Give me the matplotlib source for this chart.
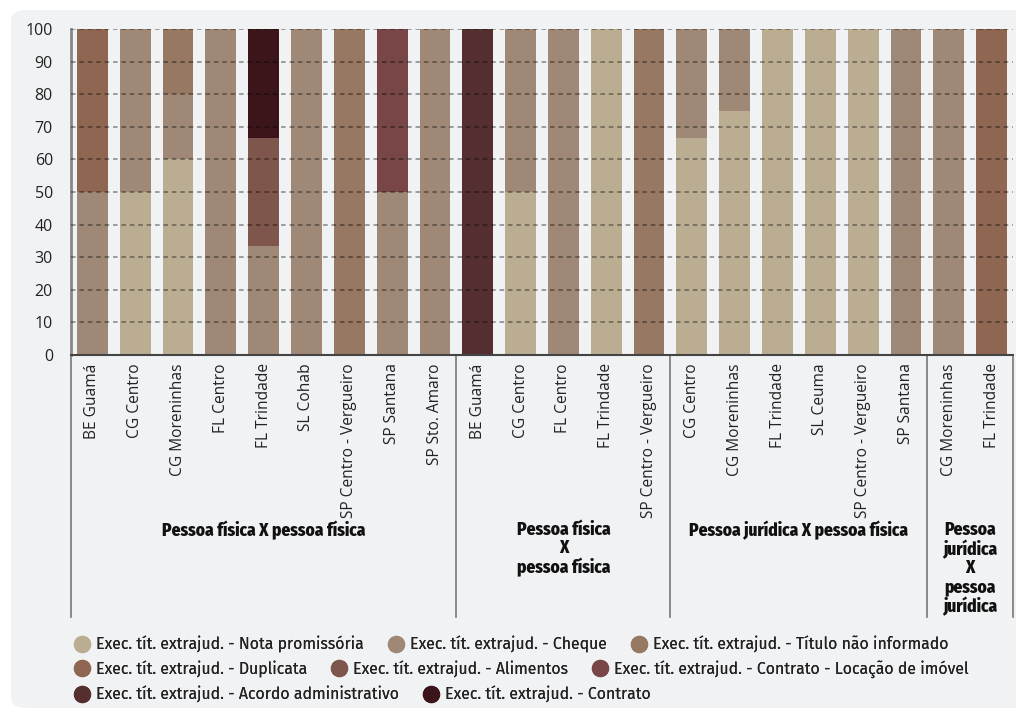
import matplotlib
matplotlib.use("Agg")
import matplotlib.pyplot as plt
from matplotlib.patches import FancyBboxPatch
from matplotlib.lines import Line2D
from matplotlib import font_manager as fm
import numpy as np

# ---- data ----
group_names = ["Pessoa física X pessoa física",
               "Pessoa física\nX\npessoa física",
               "Pessoa jurídica X pessoa física",
               "Pessoa\njurídica\nX\npessoa\njurídica"]
group_labels = [
    ["BE Guamá", "CG Centro", "CG Moreninhas", "FL Centro", "FL Trindade",
     "SL Cohab", "SP Centro - Vergueiro", "SP Santana", "SP Sto. Amaro"],
    ["BE Guamá", "CG Centro", "FL Centro", "FL Trindade", "SP Centro - Vergueiro"],
    ["CG Centro", "CG Moreninhas", "FL Trindade", "SL Ceuma",
     "SP Centro - Vergueiro", "SP Santana"],
    ["CG Moreninhas", "FL Trindade"],
]
series_names = [
    "Exec. tít. extrajud. - Nota promissória",
    "Exec. tít. extrajud. - Cheque",
    "Exec. tít. extrajud. - Título não informado",
    "Exec. tít. extrajud. - Duplicata",
    "Exec. tít. extrajud. - Alimentos",
    "Exec. tít. extrajud. - Contrato - Locação de imóvel",
    "Exec. tít. extrajud. - Acordo administrativo",
    "Exec. tít. extrajud. - Contrato",
]
colors = ["#BBAD92", "#A08877", "#977862", "#8F6652",
          "#7F564C", "#784646", "#552E30", "#3C151A"]

nota      = [0, 50, 60, 0, 0, 0, 0, 0, 0,    0, 50, 0, 100, 0,   66.7, 75, 100, 100, 100, 0,   0, 0]
cheque    = [50, 50, 20, 100, 33.3, 100, 0, 50, 100,  0, 50, 100, 0, 0,  33.3, 25, 0, 0, 0, 100,  100, 0]
titulo    = [0, 0, 20, 0, 0, 0, 100, 0, 0,   0, 0, 0, 0, 100,   0, 0, 0, 0, 0, 0,   0, 0]
duplicata = [50, 0, 0, 0, 0, 0, 0, 0, 0,     0, 0, 0, 0, 0,     0, 0, 0, 0, 0, 0,   0, 100]
alimentos = [0, 0, 0, 0, 33.3, 0, 0, 0, 0,   0, 0, 0, 0, 0,     0, 0, 0, 0, 0, 0,   0, 0]
locacao   = [0, 0, 0, 0, 0, 0, 0, 50, 0,     0, 0, 0, 0, 0,     0, 0, 0, 0, 0, 0,   0, 0]
acordo    = [0, 0, 0, 0, 0, 0, 0, 0, 0,      100, 0, 0, 0, 0,   0, 0, 0, 0, 0, 0,   0, 0]
contrato  = [0, 0, 0, 0, 33.4, 0, 0, 0, 0,   0, 0, 0, 0, 0,     0, 0, 0, 0, 0, 0,   0, 0]
series = [nota, cheque, titulo, duplicata, alimentos, locacao, acordo, contrato]

yticks = list(range(0, 101, 10))

# ---- fonts ----
_avail = {f.name for f in fm.fontManager.ttflist}


def pick(cands):
    for c in cands:
        if c in _avail:
            return c
    return "DejaVu Sans"


BASE = pick(["Fira Sans", "Open Sans", "Noto Sans"])
TICK = pick(["Open Sans", "Fira Sans", "Noto Sans"])
COND = pick(["Fira Sans Condensed", "Fira Sans Extra Condensed", "Roboto Condensed",
             "Archivo Narrow", "PT Sans Narrow", "Barlow Condensed",
             "IBM Plex Sans Condensed", "Open Sans Condensed", "Liberation Sans Narrow",
             "Roboto"])
BASE_F = [BASE, "DejaVu Sans"]
TICK_F = [TICK, "DejaVu Sans"]
COND_F = [COND, "DejaVu Sans"]

fig = plt.figure(figsize=(10.16, 7.12), dpi=100)
fig.patch.set_facecolor("white")
panel = FancyBboxPatch((11 / 1016, 4 / 712), 1.05, 698 / 712,
                       boxstyle="round,pad=0,rounding_size=0.015",
                       transform=fig.transFigure, facecolor="#F1F2F4",
                       edgecolor="none", zorder=-10)
fig.patches.append(panel)

ax = fig.add_axes([71 / 1016, 1 - 355 / 712, 942 / 1016, 326 / 712])
ax.set_facecolor("none")

labels = [l for g in group_labels for l in g]
x = np.arange(len(labels))
bottom = np.zeros(len(labels))
handles = []
for vals, name, c in zip(series, series_names, colors):
    v = np.array(vals, dtype=float)
    ax.bar(x, v, bottom=bottom, width=0.72, color=c, zorder=2)
    bottom += v
    handles.append(Line2D([], [], marker="o", linestyle="none", markersize=12.5,
                          markerfacecolor=c, markeredgecolor="none", label=name))

ax.set_xlim(-0.5, len(labels) - 0.5)
ax.set_ylim(0, 100)
ax.set_yticks(yticks)
ax.set_yticklabels([str(t) for t in yticks], family=TICK_F, fontsize=11.5, color="#222222")
ax.tick_params(axis="y", length=0, pad=13)
ax.set_xticks(x)
ax.set_xticklabels(labels, rotation=90, family=TICK_F, fontsize=11.2, color="#222222", va="top")
ax.tick_params(axis="x", length=0, pad=6)

for t in yticks[1:]:
    ax.axhline(t, color="#000000", alpha=0.45, lw=1.1, ls=(0, (3, 2.5)), zorder=3)

for s in ["top", "right"]:
    ax.spines[s].set_visible(False)
ax.spines["left"].set_color("#888888")
ax.spines["left"].set_linewidth(2)
ax.spines["bottom"].set_color("#444444")
ax.spines["bottom"].set_linewidth(1.5)
ax.spines["bottom"].set_zorder(4)

# group separators and labels
trans = ax.get_xaxis_transform()
ybot = -262 / 326
bounds = [-0.5]
acc = 0
for g in group_labels:
    acc += len(g)
    bounds.append(acc - 0.5)
for b in bounds:
    ax.plot([b, b], [0, ybot], transform=trans, color="#777777", lw=1.2,
            clip_on=False, zorder=1)
for i, name in enumerate(group_names):
    cx = (bounds[i] + bounds[i + 1]) / 2
    ax.text(cx, -166 / 326, name, transform=trans, ha="center", va="top",
            family=COND_F, fontweight="heavy", fontsize=12.5, color="#111111",
            linespacing=1.05, multialignment="center")

# legend rows (flowing layout)
rows = [handles[0:3], handles[3:6], handles[6:8]]
row_y = [644, 669, 694]
for hs, yy in zip(rows, row_y):
    leg = fig.legend(handles=hs, loc="center left",
                     bbox_to_anchor=(74 / 1016, 1 - yy / 712), ncol=len(hs),
                     frameon=False, handlelength=1.05, handletextpad=0.35,
                     columnspacing=1.5, borderaxespad=0, borderpad=0,
                     prop={"family": BASE_F, "size": 11.4})
    for t in leg.get_texts():
        t.set_color("#222222")
    fig.add_artist(leg)

fig.savefig("out.png", dpi=100, facecolor=fig.get_facecolor())
